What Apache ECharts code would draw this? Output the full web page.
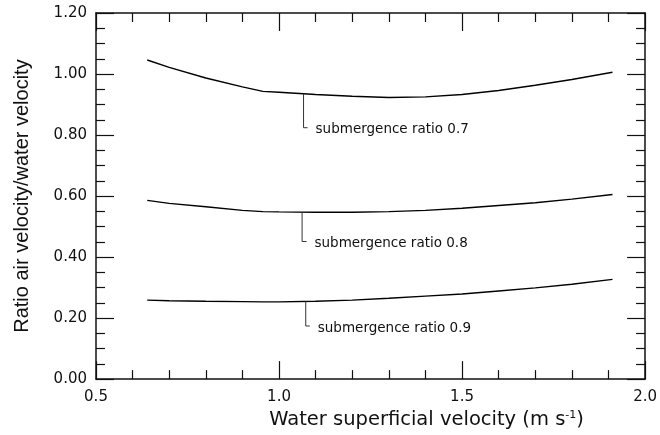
<!DOCTYPE html>
<html>
<head>
<meta charset="utf-8">
<script src="https://cdn.jsdelivr.net/npm/echarts@6/dist/echarts.min.js"></script>
<style>
  html, body { margin: 0; padding: 0; background: #fff; }
  #chart { width: 660px; height: 435px; }
</style>
</head>
<body>
<div id="chart"></div>
<script>
  // water superficial velocity (m/s)
  var velocity = [0.64, 0.7, 0.8, 0.9, 0.956, 1.0, 1.1, 1.2, 1.3, 1.4, 1.5, 1.6, 1.7, 1.8, 1.911];
  // ratio air velocity / water velocity for each submergence ratio
  var ratio07 = [1.046, 1.022, 0.987, 0.958, 0.943, 0.94, 0.933, 0.927, 0.923, 0.925, 0.933, 0.946, 0.963, 0.982, 1.006];
  var ratio08 = [0.586, 0.576, 0.565, 0.553, 0.549, 0.548, 0.547, 0.547, 0.549, 0.553, 0.56, 0.569, 0.578, 0.59, 0.605];
  var ratio09 = [0.259, 0.257, 0.255, 0.254, 0.253, 0.253, 0.255, 0.259, 0.265, 0.272, 0.279, 0.289, 0.299, 0.311, 0.327];

  var curveNames = ['submergence ratio 0.7', 'submergence ratio 0.8', 'submergence ratio 0.9'];
  // leader lines: x of the vertical part, top y, bottom y, x where the stub ends
  var leaderX = [1.067, 1.063, 1.073];
  var leaderTop = [0.935, 0.548, 0.255];
  var leaderBottom = [0.824, 0.451, 0.174];
  var leaderEnd = [1.078, 1.075, 1.084];

  var chart = echarts.init(document.getElementById('chart'));

  function zip(xs, ys) {
    var out = [];
    for (var i = 0; i < xs.length; i++) out.push([xs[i], ys[i]]);
    return out;
  }

  var tickFont = {fontFamily: 'DejaVu Sans', fontSize: 15, color: '#111'};

  function axisBase(extra) {
    var a = {
      type: 'value',
      axisLine: {show: true, onZero: false, lineStyle: {color: '#111', width: 1.5}},
      axisTick: {show: true, inside: true, length: 18, lineStyle: {color: '#111', width: 1.2}},
      minorTick: {show: true, length: 9, lineStyle: {color: '#111', width: 1.2}},
      splitLine: {show: false}
    };
    for (var k in extra) a[k] = extra[k];
    return a;
  }

  var series = [ratio07, ratio08, ratio09].map(function (vals) {
    return {
      type: 'line',
      data: zip(velocity, vals),
      showSymbol: false,
      silent: true,
      lineStyle: {color: '#000', width: 1.4}
    };
  });

  for (var i = 0; i < curveNames.length; i++) {
    series.push({
      type: 'line',
      data: [[leaderX[i], leaderTop[i]], [leaderX[i], leaderBottom[i]], [leaderEnd[i], leaderBottom[i]]],
      showSymbol: false,
      silent: true,
      lineStyle: {color: '#333', width: 1},
      endLabel: {
        show: true,
        formatter: curveNames[i],
        distance: 8,
        offset: [0, 2],
        fontFamily: 'DejaVu Sans',
        fontSize: 13.5,
        color: '#111'
      }
    });
  }

  var option = {
    animation: false,
    backgroundColor: '#fff',
    grid: {left: 96, right: 14, top: 13, bottom: 55},
    xAxis: [
      axisBase({
        min: 0.5, max: 2.0, interval: 0.5,
        minorTick: {show: true, splitNumber: 5, length: 9, lineStyle: {color: '#111', width: 1.2}},
        axisLabel: {
          margin: 11,
          formatter: function (v) { return v.toFixed(1); },
          fontFamily: tickFont.fontFamily, fontSize: tickFont.fontSize, color: tickFont.color
        },
        name: 'Water superficial velocity (m s{sup|-1})',
        nameLocation: 'middle',
        nameGap: 23,
        nameTextStyle: {
          fontFamily: 'DejaVu Sans', fontSize: 19.5, color: '#111',
          padding: [0, 0, 0, 112],
          rich: {sup: {fontFamily: 'DejaVu Sans', fontSize: 11, color: '#111', verticalAlign: 'top'}}
        }
      }),
      axisBase({
        position: 'top',
        min: 0.5, max: 2.0, interval: 0.5,
        minorTick: {show: true, splitNumber: 5, length: 9, lineStyle: {color: '#111', width: 1.2}},
        axisLabel: {show: false}
      })
    ],
    yAxis: [
      axisBase({
        min: 0, max: 1.2, interval: 0.2,
        minorTick: {show: true, splitNumber: 4, length: 9, lineStyle: {color: '#111', width: 1.2}},
        axisLabel: {
          margin: 9,
          formatter: function (v) { return v.toFixed(2); },
          fontFamily: tickFont.fontFamily, fontSize: tickFont.fontSize, color: tickFont.color
        },
        name: 'Ratio air velocity/water velocity',
        nameLocation: 'middle',
        nameRotate: 90,
        nameGap: 64,
        nameTextStyle: {fontFamily: 'Liberation Sans', fontSize: 20, color: '#111'}
      }),
      axisBase({
        position: 'right',
        min: 0, max: 1.2, interval: 0.2,
        minorTick: {show: true, splitNumber: 4, length: 9, lineStyle: {color: '#111', width: 1.2}},
        axisLabel: {show: false}
      })
    ],
    series: series
  };

  chart.setOption(option);
</script>
</body>
</html>
